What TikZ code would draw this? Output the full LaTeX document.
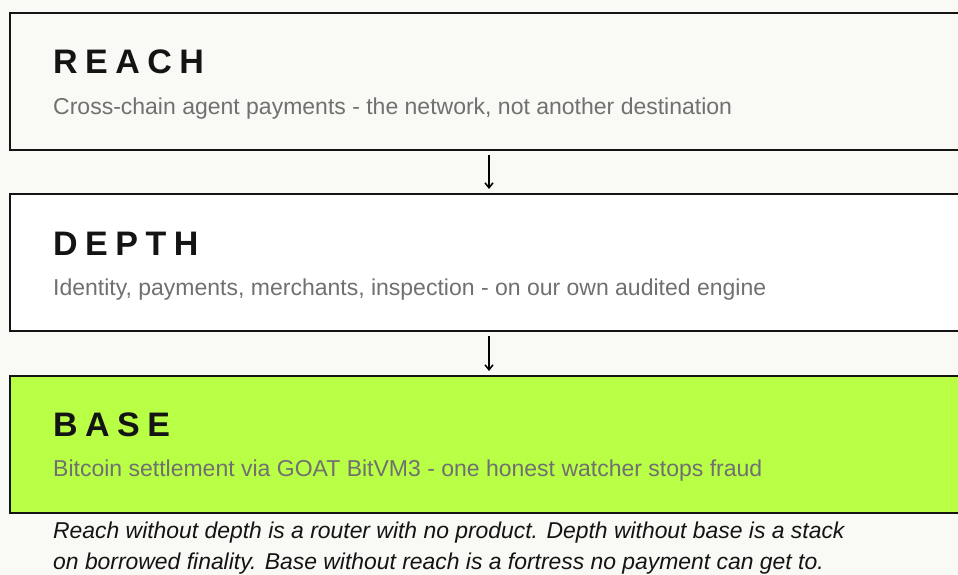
\documentclass[tikz,border=0pt]{standalone}
\usepackage{fontspec}
\setmainfont{Liberation Sans}
\newfontfamily\layerfont[LetterSpace=22]{Liberation Sans}
\usepackage{tikz}
\usetikzlibrary{arrows.meta,positioning}

\definecolor{paper}{HTML}{F9F9F5}
\definecolor{lime}{HTML}{B8FF46}
\definecolor{ink}{HTML}{141414}
\definecolor{note}{HTML}{707070}

\tikzset{
  layer/.style={draw=ink, line width=2pt, minimum width=958pt, minimum height=137pt, inner sep=0pt},
  layertitle/.style={anchor=base west, inner sep=0pt, text=ink, font=\layerfont\bfseries\fontsize{34}{40}\selectfont},
  layernote/.style={anchor=base west, inner sep=0pt, text=note, font=\fontsize{23}{27}\selectfont},
  remark/.style={anchor=base west, inner sep=0pt, text=ink, font=\itshape\fontsize{22.9}{27}\selectfont},
  stackarrow/.style={-{Straight Barb[length=5pt,width=8pt]}, line width=1.5pt, shorten <=4pt, shorten >=4pt}
}

\begin{document}
\begin{tikzpicture}[x=1pt,y=-1pt]

  % page
  \fill[paper] (0,0) rectangle (958,575);
  \clip (0,0) rectangle (958,575);

  % the three layers
  \node[layer, fill=paper] (reach) at (489,81.5) {};
  \node[layer, fill=white] (depth) at (489,262.5) {};
  \node[layer, fill=lime]  (base)  at (489,444.5) {};

  \node[layertitle] (reachT) at (53,74) {REACH};
  \node[layernote]  (reachN) at (53,114) {Cross-chain agent payments - the network, not another destination};

  \node[layertitle] (depthT) at (53,255) {DEPTH};
  \node[layernote]  (depthN) at (53,295) {Identity, payments, merchants, inspection - on our own audited engine};

  \node[layertitle] (baseT) at (53,436) {BASE};
  \node[layernote]  (baseN) at (53,476) {Bitcoin settlement via GOAT BitVM3 - one honest watcher stops fraud};

  % arrows between layers
  \draw[stackarrow] (reach.south) -- (depth.north);
  \draw[stackarrow] (depth.south) -- (base.north);

  % closing remark
  \node[remark] (remark1) at (53,538) {Reach without depth is a router with no product. Depth without base is a stack};
  \node[remark] (remark2) at (53,569) {on borrowed finality. Base without reach is a fortress no payment can get to.};

\end{tikzpicture}
\end{document}
